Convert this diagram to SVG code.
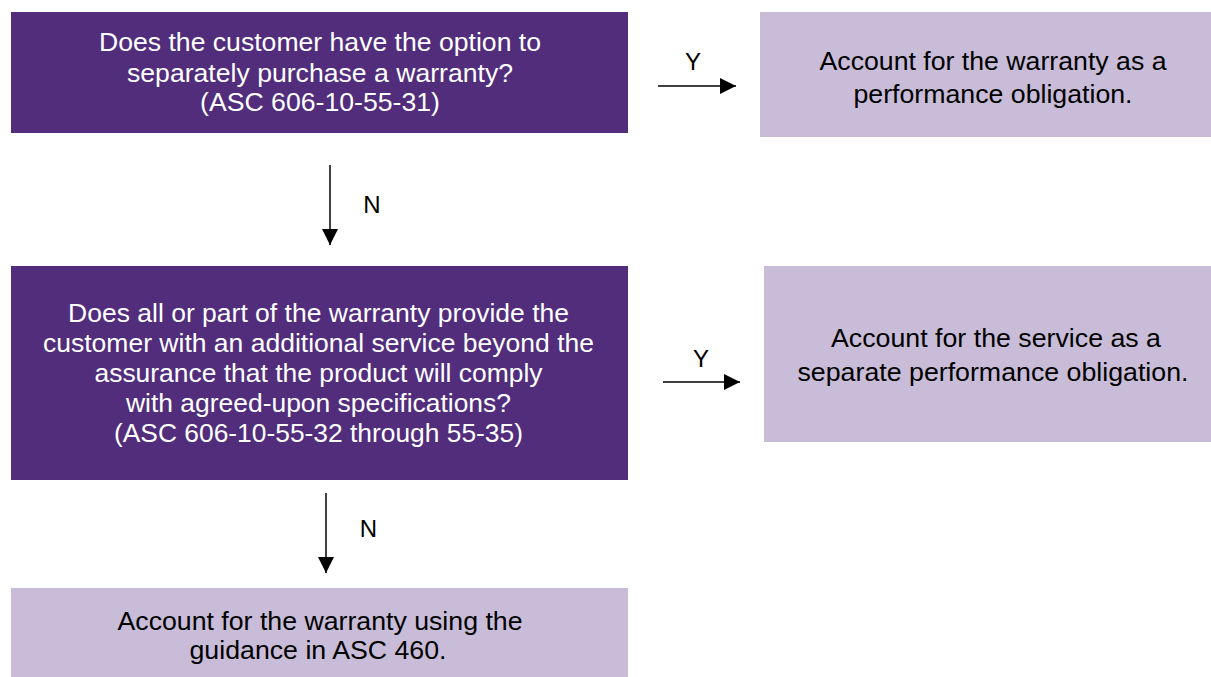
<svg xmlns="http://www.w3.org/2000/svg" width="1211" height="677" viewBox="0 0 1211 677">
<defs>
<style>
.dark{fill:#512D7C}
.light{fill:#C8BCD8}
.wt{fill:#FFFFFF;font-family:"Liberation Sans",Arial,sans-serif;font-size:25.5px;text-anchor:middle}
.bt{fill:#000000;font-family:"Liberation Sans",Arial,sans-serif;font-size:25.5px;text-anchor:middle}
.lb{fill:#000000;font-family:"Liberation Sans",Arial,sans-serif;font-size:24px;text-anchor:middle}
.ln{stroke:#000000;stroke-width:1.5;fill:none}
</style>
<marker id="ah" viewBox="0 0 16 16" refX="16" refY="8" markerWidth="16" markerHeight="16" markerUnits="userSpaceOnUse" orient="auto"><path d="M0,0 L16,8 L0,16 z" fill="#000"/></marker>
</defs>
<g id="q1">
<rect class="dark" x="11" y="12" width="617" height="121"/>
<text class="wt" x="320" y="51" textLength="442" lengthAdjust="spacingAndGlyphs">Does the customer have the option to</text>
<text class="wt" x="320" y="82" textLength="386" lengthAdjust="spacingAndGlyphs">separately purchase a warranty?</text>
<text class="wt" x="320" y="111" textLength="240" lengthAdjust="spacingAndGlyphs">(ASC 606-10-55-31)</text>
</g>
<g id="r1">
<rect class="light" x="760" y="12" width="451" height="125"/>
<text class="bt" x="993" y="70" textLength="347" lengthAdjust="spacingAndGlyphs">Account for the warranty as a</text>
<text class="bt" x="993" y="103" textLength="279" lengthAdjust="spacingAndGlyphs">performance obligation.</text>
</g>
<g id="q2">
<rect class="dark" x="11" y="266" width="617" height="214"/>
<text class="wt" x="318.5" y="322" textLength="501" lengthAdjust="spacingAndGlyphs">Does all or part of the warranty provide the</text>
<text class="wt" x="318.5" y="352" textLength="551" lengthAdjust="spacingAndGlyphs">customer with an additional service beyond the</text>
<text class="wt" x="318.5" y="382" textLength="448" lengthAdjust="spacingAndGlyphs">assurance that the product will comply</text>
<text class="wt" x="318.5" y="412" textLength="385" lengthAdjust="spacingAndGlyphs">with agreed-upon specifications?</text>
<text class="wt" x="318.5" y="442" textLength="409" lengthAdjust="spacingAndGlyphs">(ASC 606-10-55-32 through 55-35)</text>
</g>
<g id="r2">
<rect class="light" x="764" y="266" width="447" height="176"/>
<text class="bt" x="996" y="347" textLength="330" lengthAdjust="spacingAndGlyphs">Account for the service as a</text>
<text class="bt" x="993" y="381" textLength="391" lengthAdjust="spacingAndGlyphs">separate performance obligation.</text>
</g>
<g id="r3">
<rect class="light" x="11" y="588" width="617" height="89"/>
<text class="bt" x="320" y="630" textLength="405" lengthAdjust="spacingAndGlyphs">Account for the warranty using the</text>
<text class="bt" x="318" y="659" textLength="257" lengthAdjust="spacingAndGlyphs">guidance in ASC 460.</text>
</g>
<g id="connectors">
<line class="ln" x1="658" y1="86" x2="736" y2="86" marker-end="url(#ah)"/>
<text class="lb" x="693" y="70">Y</text>
<line class="ln" x1="330" y1="165" x2="330" y2="245" marker-end="url(#ah)"/>
<text class="lb" x="372" y="213">N</text>
<line class="ln" x1="663" y1="382" x2="740" y2="382" marker-end="url(#ah)"/>
<text class="lb" x="701" y="367">Y</text>
<line class="ln" x1="326" y1="493" x2="326" y2="573" marker-end="url(#ah)"/>
<text class="lb" x="368.5" y="537">N</text>
</g>
</svg>
